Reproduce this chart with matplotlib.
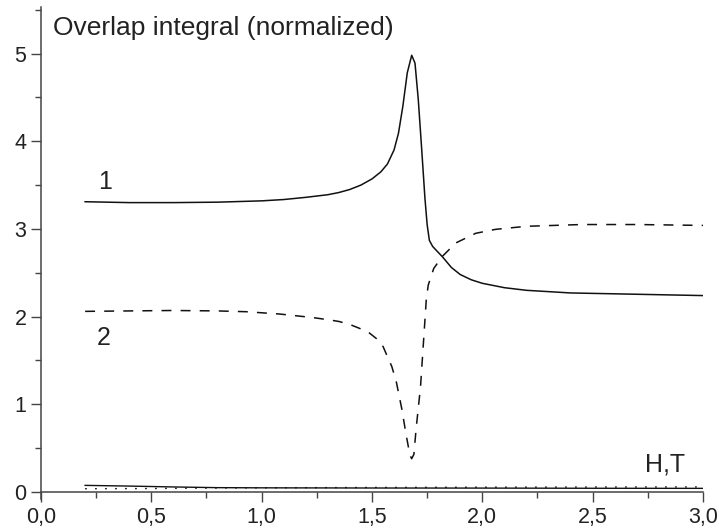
import numpy as np
import matplotlib
matplotlib.use("Agg")
import matplotlib.pyplot as plt
from matplotlib.ticker import MultipleLocator, FuncFormatter

plt.rcParams['font.family'] = ['Liberation Sans', 'DejaVu Sans']

# curve 1 (solid)
x1 = [0.2, 0.4, 0.6, 0.8, 1.0, 1.1, 1.2, 1.3, 1.35, 1.4, 1.45, 1.5, 1.54, 1.57,
      1.6, 1.62, 1.64, 1.66, 1.68, 1.695, 1.71, 1.725, 1.74, 1.75, 1.76, 1.775,
      1.79, 1.82, 1.86, 1.9, 1.95, 2.0, 2.1, 2.2, 2.4, 2.6, 2.8, 3.0]
y1 = [3.31, 3.30, 3.30, 3.305, 3.32, 3.335, 3.36, 3.39, 3.415, 3.45, 3.50, 3.57, 3.65, 3.74,
      3.90, 4.09, 4.40, 4.78, 4.98, 4.89, 4.47, 3.92, 3.35, 3.05, 2.87, 2.80,
      2.76, 2.68, 2.56, 2.48, 2.42, 2.38, 2.33, 2.30, 2.27, 2.26, 2.25, 2.24]

# curve 2 (dashed)
x2 = [0.2, 0.4, 0.6, 0.8, 0.93, 1.08, 1.23, 1.3, 1.35, 1.4, 1.44, 1.485, 1.52, 1.55,
      1.59, 1.61, 1.635, 1.655, 1.672, 1.68, 1.69, 1.70, 1.72, 1.735, 1.746, 1.755,
      1.78, 1.82, 1.88, 1.97, 2.06, 2.2, 2.45, 2.7, 3.0]
y2 = [2.06, 2.065, 2.07, 2.065, 2.056, 2.03, 1.99, 1.965, 1.945, 1.91, 1.87, 1.82, 1.75, 1.66,
      1.43, 1.26, 0.95, 0.65, 0.42, 0.38, 0.43, 0.72, 1.20, 1.77, 2.19, 2.36,
      2.55, 2.69, 2.84, 2.95, 2.995, 3.03, 3.05, 3.05, 3.04]

# H, T curves near zero
xh = [0.2, 0.4, 0.6, 0.8, 1.0, 1.5, 2.0, 2.5, 3.0]
yh = [0.076, 0.068, 0.058, 0.05, 0.048, 0.046, 0.045, 0.043, 0.042]
xt = [0.2, 0.5, 0.8, 1.0, 1.5, 2.0, 2.5, 3.0]
yt = [0.038, 0.040, 0.046, 0.048, 0.052, 0.055, 0.057, 0.058]

fig = plt.figure(figsize=(7.19, 5.32), dpi=100)
ax = fig.add_axes([0.057, 0.0611, 0.9207, 0.9257])

lc = '#111111'
ax.plot(x1, y1, color=lc, lw=1.1)
ax.plot(x2, y2, color=lc, lw=1.1, dashes=(6.5, 6))
ax.plot(xh, yh, color=lc, lw=1.0)
ax.plot(xt, yt, color=lc, lw=1.0, dashes=(1.2, 6))

ax.set_xlim(0, 3.0)
ax.set_ylim(-0.085, 5.53)

for s in ['top', 'right']:
    ax.spines[s].set_visible(False)
ax.spines['bottom'].set_position(('data', 0))
for s in ['left', 'bottom']:
    ax.spines[s].set_color('#444444')
    ax.spines[s].set_linewidth(1.1)

ax.xaxis.set_major_locator(MultipleLocator(0.5))
ax.xaxis.set_minor_locator(MultipleLocator(0.25))
ax.yaxis.set_major_locator(MultipleLocator(1))
ax.yaxis.set_minor_locator(MultipleLocator(0.5))
ax.xaxis.set_major_formatter(FuncFormatter(lambda v, p: f"{v:.1f}".replace('.', ',')))
ax.yaxis.set_major_formatter(FuncFormatter(lambda v, p: f"{v:.0f}"))

ax.tick_params(which='major', direction='out', length=7.5, width=1.0, color='#444444',
               labelsize=15.5, labelcolor='#222222', pad=3)
ax.tick_params(which='minor', direction='out', length=4, width=1.0, color='#444444')

ax.text(0.053, 5.21, 'Overlap integral (normalized)', fontsize=19, color='#222222',
        ha='left', va='baseline')
ax.text(0.29, 3.53, '1', fontsize=18, color='#222222', ha='center', va='center')
ax.text(0.285, 1.76, '2', fontsize=18, color='#222222', ha='center', va='center')
ax.text(2.83, 0.31, 'H,T', fontsize=18, color='#222222', ha='center', va='center')

fig.savefig('out.png', dpi=100)
